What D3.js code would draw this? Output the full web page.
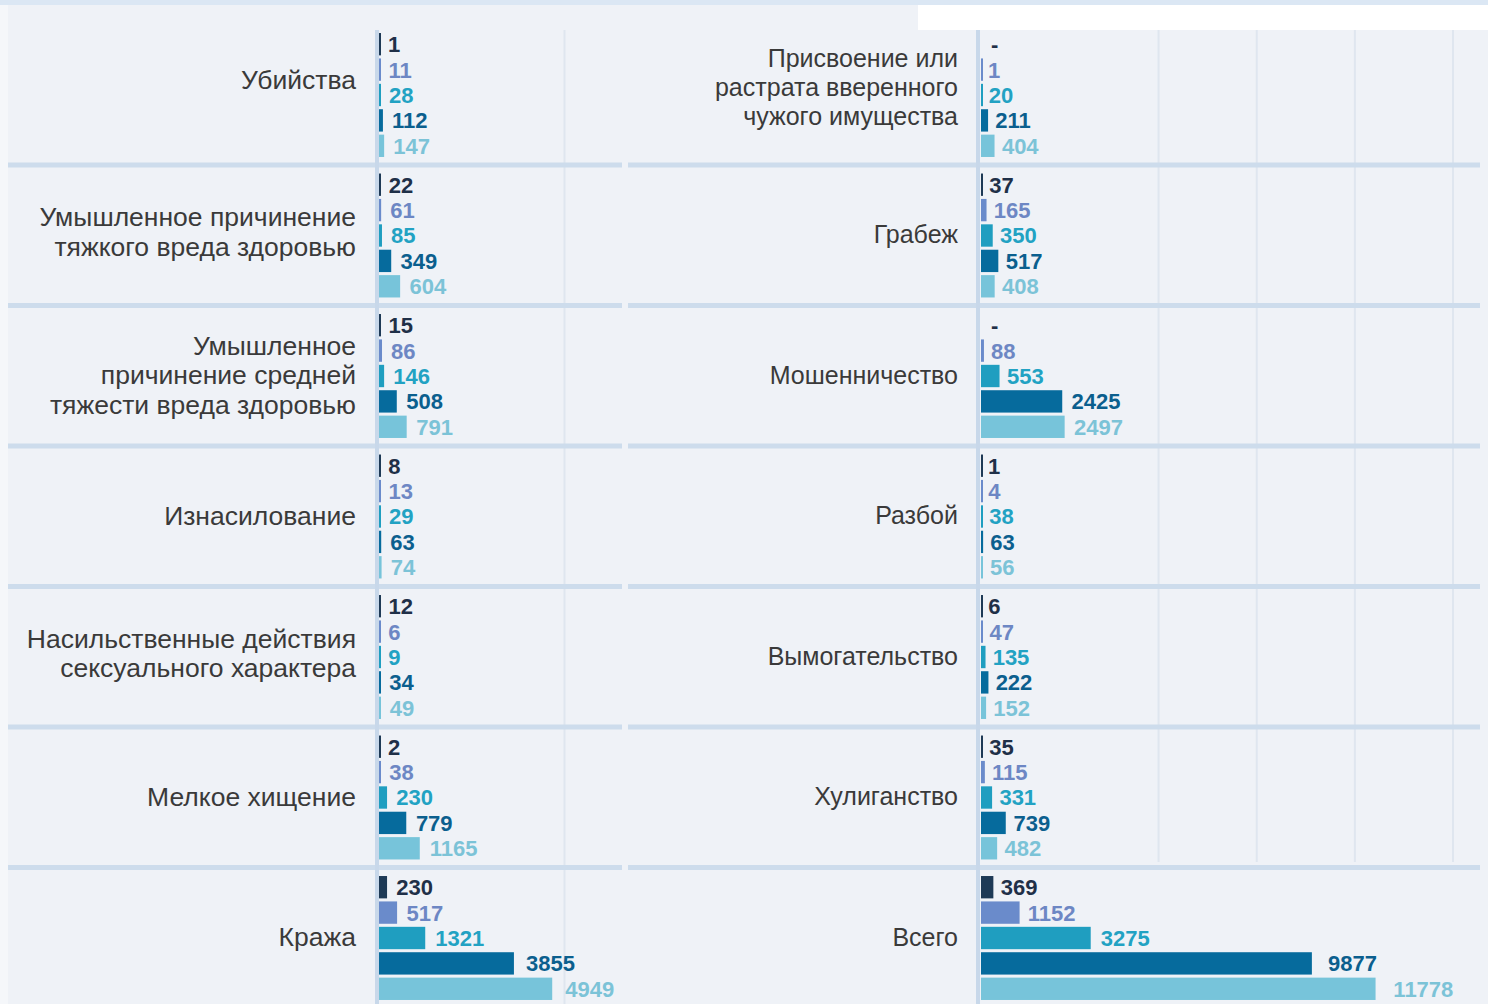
<!DOCTYPE html>
<html>
<head>
<meta charset="utf-8">
<script src="https://cdn.jsdelivr.net/npm/d3@7"></script>
<style>
  html, body { margin: 0; padding: 0; background: #f5f7fa; }
  svg { display: block; }
  .cat { font-family: "Liberation Sans", Arial, sans-serif; fill: #3a3a3a; }
  .val { font-family: "Liberation Sans", Arial, sans-serif; font-size: 22px; font-weight: bold; }
</style>
</head>
<body>
<div id="chart"></div>
<script>
const W = 1488;
const H = 1004;

// categories, left column first then right column
const leftCategories = [
  ['Убийства'],
  ['Умышленное причинение', 'тяжкого вреда здоровью'],
  ['Умышленное', 'причинение средней', 'тяжести вреда здоровью'],
  ['Изнасилование'],
  ['Насильственные действия', 'сексуального характера'],
  ['Мелкое хищение'],
  ['Кража']
];
const rightCategories = [
  ['Присвоение или', 'растрата вверенного', 'чужого имущества'],
  ['Грабеж'],
  ['Мошенничество'],
  ['Разбой'],
  ['Вымогательство'],
  ['Хулиганство'],
  ['Всего']
];

// five series, same order as the categories (null = "-")
const seriesA = [1, 22, 15, 8, 12, 2, 230,        null, 37, null, 1, 6, 35, 369];
const seriesB = [11, 61, 86, 13, 6, 38, 517,      1, 165, 88, 4, 47, 115, 1152];
const seriesC = [28, 85, 146, 29, 9, 230, 1321,   20, 350, 553, 38, 135, 331, 3275];
const seriesD = [112, 349, 508, 63, 34, 779, 3855, 211, 517, 2425, 63, 222, 739, 9877];
const seriesE = [147, 604, 791, 74, 49, 1165, 4949, 404, 408, 2497, 56, 152, 482, 11778];

const gridValues = [5300, 8230, 11160, 14090];

const barColors = ['#1e3a56', '#6a8bcb', '#1f9ec0', '#066b9d', '#77c4da'];
const textColors = ['#1f3048', '#6d87c4', '#22a2c3', '#0b5f8e', '#7cc3d7'];

const series = [seriesA, seriesB, seriesC, seriesD, seriesE];
const keys = d3.range(series.length);

const svg = d3.select('#chart').append('svg')
  .attr('width', W)
  .attr('height', H);

// backgrounds
svg.append('rect').attr('x', 8).attr('y', 0).attr('width', W - 8).attr('height', H).attr('fill', '#eff2f7');
svg.append('rect').attr('x', 0).attr('y', 0).attr('width', W).attr('height', 5).attr('fill', '#dbe7f4');
svg.append('rect').attr('x', 918).attr('y', 5).attr('width', W - 918).attr('height', 25).attr('fill', '#ffffff');

// row positions
const rowScale = d3.scaleLinear().domain([0, 6]).range([31.5, 874.5]);
const barBand = d3.scaleBand().domain(keys).range([0, 127]).paddingInner(0.12).paddingOuter(0.06);
const sepY = r => rowScale(r) + 133.5;

const columns = [
  {
    cats: leftCategories, offset: 0, left: 8, right: 622, labelRight: 356, axisX: 377, gridBottom: H,
    fontSize: 26.5, lineH: 29.5, firstCenter: 80,
    x: d3.scaleLinear().domain([0, 5000]).range([379, 554]),
    lx: d3.scaleLinear().domain([0, 5000]).range([388, 567])
  },
  {
    cats: rightCategories, offset: 7, left: 628, right: 1480, labelRight: 958, axisX: 978, gridBottom: 862,
    fontSize: 25, lineH: 29, firstCenter: 87,
    x: d3.scaleLinear().domain([0, 12000]).range([981, 1383]),
    lx: d3.scaleLinear().domain([0, 12000]).range([988, 1401])
  }
];

columns.forEach(col => {
  const g = svg.append('g');

  // vertical grid lines
  g.selectAll('line.grid')
    .data(gridValues.filter(v => col.x(v) < col.right))
    .enter().append('line')
    .attr('class', 'grid')
    .attr('x1', d => col.x(d)).attr('x2', d => col.x(d))
    .attr('y1', 30).attr('y2', col.gridBottom)
    .attr('stroke', '#dfe6ef').attr('stroke-width', 2);

  // row separators
  g.selectAll('rect.sep')
    .data(d3.range(6))
    .enter().append('rect')
    .attr('class', 'sep')
    .attr('x', col.left).attr('width', col.right - col.left)
    .attr('y', d => sepY(d) - 2.5).attr('height', 5)
    .attr('fill', '#cddcec');

  // axis line
  g.append('rect')
    .attr('x', col.axisX - 2).attr('width', 4)
    .attr('y', 30).attr('height', H - 30)
    .attr('fill', '#c8d8ea');

  col.cats.forEach((lines, r) => {
    const idx = col.offset + r;
    const top = rowScale(r);
    let cy = r === 0 ? col.firstCenter : (sepY(r - 1) + sepY(r)) / 2 - 1;
    if (r > 0 && lines.length === 2) cy -= 2.5;

    g.append('text')
      .attr('class', 'cat')
      .attr('font-size', col.fontSize)
      .attr('text-anchor', 'end')
      .selectAll('tspan')
      .data(lines)
      .enter().append('tspan')
      .attr('x', col.labelRight)
      .attr('y', (d, i) => cy + (i - (lines.length - 1) / 2) * col.lineH)
      .attr('dy', '0.35em')
      .text(d => d);

    const rowData = keys.map(k => ({ k, v: series[k][idx] }));

    g.selectAll(null)
      .data(rowData.filter(d => d.v != null))
      .enter().append('rect')
      .attr('x', col.x(0))
      .attr('y', d => top + barBand(d.k))
      .attr('width', d => Math.max(2, col.x(d.v) - col.x(0)))
      .attr('height', barBand.bandwidth())
      .attr('fill', d => barColors[d.k]);

    g.selectAll(null)
      .data(rowData)
      .enter().append('text')
      .attr('class', 'val')
      .attr('x', d => d.v == null ? col.lx(0) + 3 : col.lx(d.v))
      .attr('y', d => top + barBand(d.k) + barBand.bandwidth() / 2)
      .attr('dy', '0.36em')
      .attr('fill', d => textColors[d.k])
      .text(d => d.v == null ? '-' : d.v);
  });
});
</script>
</body>
</html>
